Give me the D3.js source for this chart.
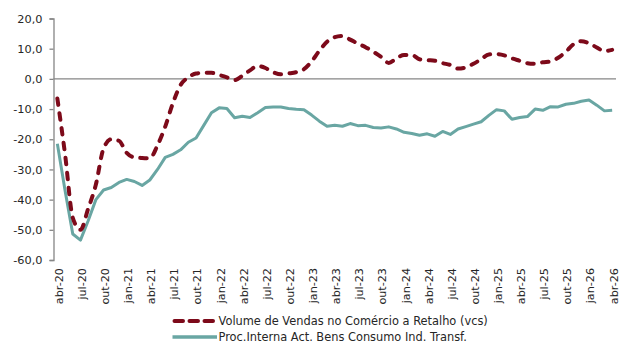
<!DOCTYPE html>
<html>
<head>
<meta charset="utf-8">
<script src="https://cdn.jsdelivr.net/npm/d3@7"></script>
<style>
  html, body { margin: 0; padding: 0; background: #fff; }
  svg { display: block; font-family: "DejaVu Sans", Verdana, sans-serif; }
</style>
</head>
<body>
<svg id="chart" width="629" height="344"></svg>
<script>
// Monthly categories, abr-20 … abr-26
const categories = [
  "abr-20","mai-20","jun-20","jul-20","ago-20","set-20","out-20","nov-20","dez-20",
  "jan-21","fev-21","mar-21","abr-21","mai-21","jun-21","jul-21","ago-21","set-21","out-21","nov-21","dez-21",
  "jan-22","fev-22","mar-22","abr-22","mai-22","jun-22","jul-22","ago-22","set-22","out-22","nov-22","dez-22",
  "jan-23","fev-23","mar-23","abr-23","mai-23","jun-23","jul-23","ago-23","set-23","out-23","nov-23","dez-23",
  "jan-24","fev-24","mar-24","abr-24","mai-24","jun-24","jul-24","ago-24","set-24","out-24","nov-24","dez-24",
  "jan-25","fev-25","mar-25","abr-25","mai-25","jun-25","jul-25","ago-25","set-25","out-25","nov-25","dez-25",
  "jan-26","fev-26","mar-26","abr-26"
];

// Volume de Vendas no Comércio a Retalho (vcs)
const vendasRetalho = [
  -6.5, -25, -46, -50, -43, -35, -23, -20, -20.5,
  -24.5, -26, -26.2, -26.3, -22, -15.8, -8, -2, 0.5, 1.8, 2, 2,
  1.3, 0.5, -0.4, 1, 2.8, 4.3, 3.6, 2.2, 1.5, 1.8, 2.2, 3.2,
  5.8, 9.3, 12.3, 13.8, 14.2, 13, 11.7, 10.5, 9, 7.3, 5.3, 6.8,
  7.9, 7.9, 6.5, 6.2, 6.0, 5.2, 4.6, 3.4, 3.8, 5.0, 6.5, 8.1,
  8.2, 7.8, 6.8, 6.0, 5.2, 5.0, 5.5, 5.8, 7.0, 9.0, 11.5, 12.5,
  11.8, 10.4, 9.2, 9.6
];

// Proc.Interna Act. Bens Consumo Ind. Transf.
const procInterna = [
  -21.5, -37, -51.4, -53.4, -47, -40, -36.8, -36, -34.3,
  -33.3, -34, -35.3, -33.5, -30, -26, -25, -23.5, -21, -19.6, -15.4, -11.2,
  -9.6, -9.8, -12.9, -12.4, -12.8, -11.2, -9.5, -9.3, -9.3, -9.8, -10.1, -10.2,
  -12, -14, -15.7, -15.4, -15.7, -14.8, -15.5, -15.4, -16.1, -16.3, -15.9, -16.6,
  -17.7, -18.1, -18.7, -18.2, -19, -17.4, -18.4, -16.6, -15.8, -15, -14.2, -12.1,
  -10.2, -10.6, -13.4, -12.8, -12.5, -10, -10.4, -9.2, -9.3, -8.4, -8.1, -7.4,
  -7, -8.7, -10.6, -10.4
];

const yTicks = [20, 10, 0, -10, -20, -30, -40, -50, -60];
const seriesNames = [
  "Volume de Vendas no Comércio a Retalho (vcs)",
  "Proc.Interna Act. Bens Consumo Ind. Transf."
];

const svg = d3.select("#chart");
const plot = { left: 53.5, right: 616, top: 18.5, bottom: 260 };
const axisColor = "#868686";
const textColor = "#262626";
const redColor = "#7d0a1a";
const tealColor = "#69a6a3";

const x = d3.scaleBand().domain(categories).range([plot.left, plot.right]);
const xc = d => x(d) + x.bandwidth() / 2;
const y = d3.scaleLinear().domain([-60, 20]).range([plot.bottom, plot.top]);

// value axis
const yAxis = d3.axisLeft(y)
  .tickValues(yTicks)
  .tickSize(4)
  .tickPadding(7)
  .tickFormat(d => d3.format(".1f")(d).replace(".", ",").replace("−", "-"));
const gy = svg.append("g").attr("transform", `translate(${plot.left},0)`).call(yAxis);
gy.select(".domain").attr("stroke", axisColor).attr("stroke-width", 1.3);
gy.selectAll(".tick line").attr("stroke", axisColor).attr("stroke-width", 1.3);
gy.selectAll(".tick text").attr("fill", textColor).style("font-size", "11.3px")
  .style("font-family", "'DejaVu Sans', Verdana, sans-serif");

// category axis sits on zero
svg.append("line")
  .attr("x1", plot.left).attr("x2", plot.right)
  .attr("y1", y(0)).attr("y2", y(0))
  .attr("stroke", axisColor).attr("stroke-width", 1.3);

// month labels every quarter, below the plot
const labelCats = categories.filter((d, i) => i % 3 === 0);
svg.append("g").selectAll("text")
  .data(labelCats)
  .join("text")
  .attr("transform", d => `translate(${xc(d) + 1.5},${plot.bottom + 8}) rotate(-90)`)
  .attr("text-anchor", "end")
  .attr("dy", "0.35em")
  .attr("fill", textColor)
  .style("font-size", "11.2px")
  .text(d => d);

// series lines
const redLine = d3.line()
  .x((d, i) => xc(categories[i]))
  .y(d => y(d))
  .curve(d3.curveMonotoneX);
const tealLine = d3.line()
  .x((d, i) => xc(categories[i]))
  .y(d => y(d));

svg.append("path")
  .datum(procInterna)
  .attr("d", tealLine)
  .attr("fill", "none")
  .attr("stroke", tealColor)
  .attr("stroke-width", 3)
  .attr("stroke-linejoin", "round");

svg.append("path")
  .datum(vendasRetalho)
  .attr("d", redLine)
  .attr("fill", "none")
  .attr("stroke", redColor)
  .attr("stroke-width", 4)
  .attr("stroke-linecap", "round")
  .attr("stroke-dasharray", "6.5,8.5");

// legend
const legend = svg.append("g");
const legendRows = [
  { name: seriesNames[0], color: redColor, width: 4, dash: "8.5,6.5", cap: "round", y: 321 },
  { name: seriesNames[1], color: tealColor, width: 3.5, dash: null, cap: "butt", y: 337 }
];
legendRows.forEach(r => {
  legend.append("line")
    .attr("x1", r.cap === "round" ? 174.5 : 172.5).attr("x2", r.cap === "round" ? 215 : 217)
    .attr("y1", r.y).attr("y2", r.y)
    .attr("stroke", r.color)
    .attr("stroke-width", r.width)
    .attr("stroke-linecap", r.cap)
    .attr("stroke-dasharray", r.dash);
  legend.append("text")
    .attr("x", 218.5).attr("y", r.y)
    .attr("dy", "0.36em")
    .attr("fill", textColor)
    .style("font-size", "11.4px")
    .text(r.name);
});
</script>
</body>
</html>
